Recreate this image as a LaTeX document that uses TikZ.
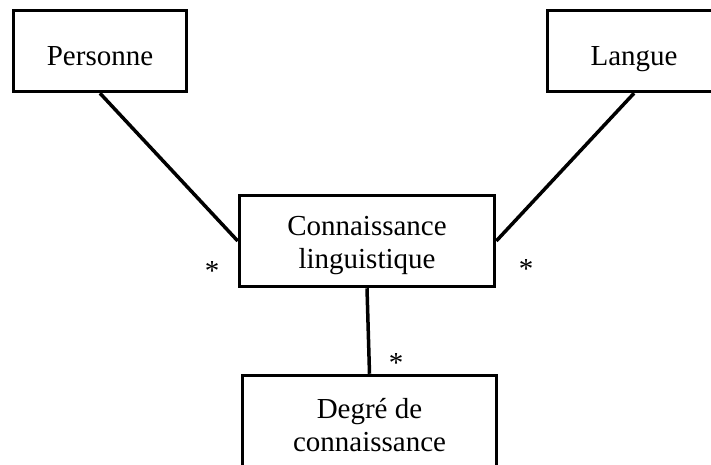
\documentclass[tikz,border=0pt]{standalone}
\usepackage{fontspec}
\setmainfont{Liberation Serif}
\usetikzlibrary{positioning}

\newcommand{\topstrut}{\rule{0pt}{29pt}}

\begin{document}
\begin{tikzpicture}[x=1pt,y=-1pt,
box/.style={draw,line width=3.5pt,align=center,inner sep=0pt,font=\fontsize{29}{33}\selectfont},
oneline/.style={box,minimum width=173pt,minimum height=81pt,text height=29pt,text depth=0pt},
twoline/.style={box,minimum height=91pt},
link/.style={line width=3.5pt},
mult/.style={anchor=base,inner sep=0pt,font=\fontsize{29}{33}\selectfont}
]
\useasboundingbox (0,0) rectangle (711,465);
\clip (0,0) rectangle (711,465);
\node[oneline] (personne) at (100,51) {Personne};
\node[oneline] (langue) at (634,51) {Langue};
\node[twoline,minimum width=255pt] (connaissance) at (367,241) {\topstrut Connaissance\\linguistique};
\node[twoline,minimum width=254pt] (degre) at (369.5,421) {\topstrut Degré de\\connaissance};
\draw[link] (personne.south)--(connaissance.west);
\draw[link] (langue.south)--(connaissance.east);
\draw[link] (connaissance.south)--(degre.north);
\node[mult] (m1) at (212,280) {*};
\node[mult] (m2) at (526,278) {*};
\node[mult] (m3) at (396,372) {*};
\end{tikzpicture}
\end{document}
